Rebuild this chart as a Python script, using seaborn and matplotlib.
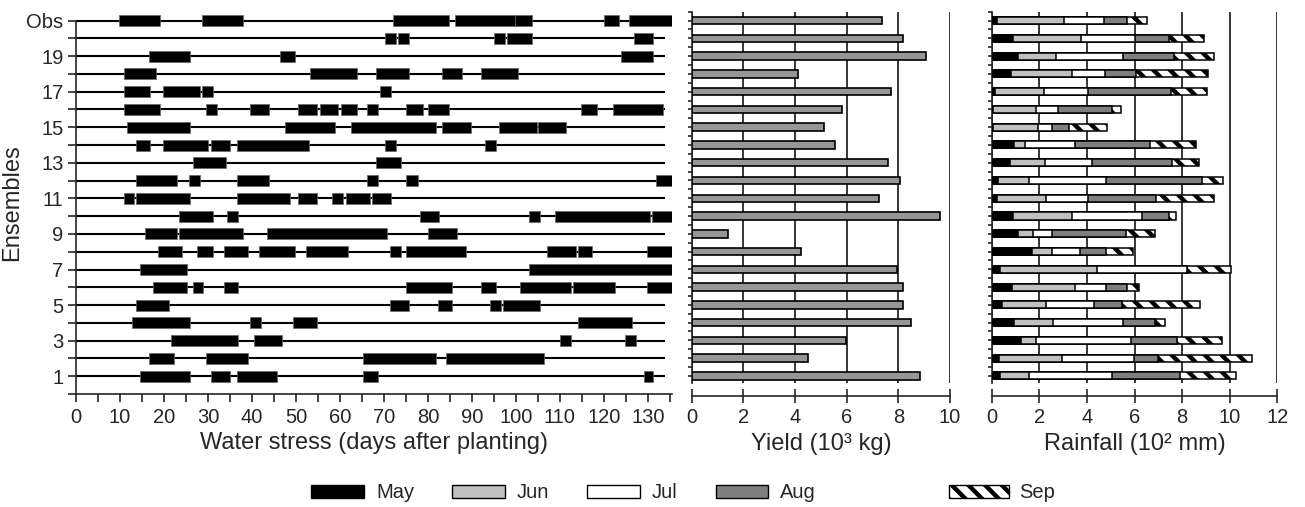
import numpy as np
import pandas as pd
import matplotlib
matplotlib.use("Agg")
import matplotlib.pyplot as plt
from matplotlib.patches import Patch
from matplotlib.ticker import MultipleLocator
import seaborn as sns

# rows: ensembles 1..20, then observed (top row)
row_labels = ["1", "", "3", "", "5", "", "7", "", "9", "", "11", "", "13", "",
              "15", "", "17", "", "19", "", "Obs"]
rows = np.arange(1, 22)

# water stress periods (start day, end day) per row
stress_e1 = [(14.5, 26.0), (30.6, 35.0), (36.6, 45.8), (65.3, 68.7), (129.2, 131.2)]
stress_e2 = [(16.7, 22.2), (29.5, 39.0), (65.3, 81.8), (84.1, 106.4)]
stress_e3 = [(21.6, 36.9), (40.4, 46.9), (110.0, 112.5), (124.9, 127.4)]
stress_e4 = [(12.7, 26.0), (39.5, 42.0), (49.3, 54.8), (114.1, 126.4)]
stress_e5 = [(13.7, 21.1), (71.4, 75.8), (82.3, 85.5), (94.1, 96.6), (97.1, 105.4)]
stress_e6 = [(17.5, 25.2), (26.5, 28.9), (33.6, 36.9), (75.1, 85.5), (92.0, 95.5),
             (101.0, 112.5), (113.0, 122.5), (129.8, 135.4)]
stress_e7 = [(14.5, 25.2), (102.9, 135.4)]
stress_e8 = [(18.6, 24.0), (27.6, 31.1), (33.6, 39.0), (41.5, 49.8), (52.3, 61.9),
             (71.4, 73.9), (75.1, 88.6), (107.0, 113.6), (114.1, 117.3), (129.8, 135.4)]
stress_e9 = [(15.8, 23.0), (23.5, 38.0), (43.4, 70.8), (80.1, 86.6)]
stress_e10 = [(23.5, 31.1), (34.4, 36.9), (78.2, 82.6), (102.9, 105.4), (108.9, 130.5),
              (130.9, 135.4)]
stress_e11 = [(10.8, 13.2), (13.7, 26.0), (36.6, 48.7), (50.5, 54.8), (58.3, 60.8),
              (61.4, 66.8), (67.2, 71.7)]
stress_e12 = [(13.7, 23.0), (25.7, 28.2), (36.6, 43.9), (66.2, 68.7), (75.1, 77.7),
              (131.8, 135.4)]
stress_e13 = [(26.5, 34.2), (68.3, 73.9)]
stress_e14 = [(13.7, 16.9), (19.7, 30.0), (30.6, 35.0), (36.6, 53.0), (70.2, 72.7),
              (93.0, 95.5)]
stress_e15 = [(11.5, 26.0), (47.5, 58.9), (62.5, 81.8), (83.1, 89.7), (96.1, 104.7),
              (105.1, 111.4)]
stress_e16 = [(10.8, 19.1), (29.5, 32.0), (39.5, 43.9), (50.5, 54.8), (55.4, 59.6),
              (60.2, 63.8), (66.2, 68.7), (75.1, 78.8), (80.1, 84.8), (114.9, 118.5),
              (122.0, 133.5)]
stress_e17 = [(10.8, 16.9), (19.7, 28.2), (28.7, 31.1), (69.2, 71.7)]
stress_e18 = [(10.8, 18.1), (53.3, 63.8), (68.3, 75.8), (83.1, 87.8), (92.0, 100.5)]
stress_e19 = [(16.7, 26.0), (46.3, 49.8), (123.8, 131.2)]
stress_e20 = [(70.2, 72.7), (73.3, 75.8), (95.0, 97.6), (98.0, 103.6), (126.8, 131.2)]
stress_obs = [(9.7, 19.1), (28.7, 38.0), (72.1, 84.8), (86.1, 99.8), (99.8, 103.6),
              (120.0, 123.4), (125.8, 135.4)]
season_end = 134

# yield (10^3 kg), rows 1..20 then Obs
yields = [8.84, 4.52, 5.96, 8.49, 8.19, 8.19, 7.96, 4.23, 1.39, 9.60, 7.26, 8.06,
          7.61, 5.53, 5.12, 5.81, 7.73, 4.13, 9.06, 8.19, 7.38]

# monthly rainfall (10^2 mm), rows 1..20 then Obs
rain_may = [0.35, 0.32, 1.23, 0.95, 0.45, 0.87, 0.35, 1.71, 1.12, 0.91, 0.24, 0.25,
            0.77, 0.95, 0.05, 0.05, 0.14, 0.81, 1.12, 0.91, 0.21]
rain_jun = [1.20, 2.63, 0.62, 1.61, 1.85, 2.63, 4.06, 0.84, 0.63, 2.45, 2.04, 1.30,
            1.48, 0.46, 1.90, 1.80, 2.04, 2.55, 1.57, 2.84, 2.84]
rain_jul = [3.52, 3.03, 4.02, 2.96, 2.01, 1.32, 3.80, 1.15, 0.80, 2.94, 1.77, 3.27,
            1.96, 2.09, 0.60, 0.94, 1.85, 1.39, 2.83, 2.27, 1.65]
rain_aug = [2.85, 0.99, 1.90, 1.35, 1.15, 0.85, 0.00, 1.10, 3.11, 1.16, 2.84, 4.03,
            3.37, 3.16, 0.71, 2.25, 3.49, 1.30, 2.14, 1.44, 1.00]
rain_sep = [2.33, 3.97, 1.92, 0.42, 3.28, 0.51, 1.83, 1.14, 1.21, 0.27, 2.45, 0.88,
            1.14, 1.91, 1.58, 0.38, 1.51, 3.03, 1.67, 1.47, 0.81]

months = ["May", "Jun", "Jul", "Aug", "Sep"]
month_colors = ["black", "#c0c0c0", "white", "#7f7f7f", "white"]
month_hatch = [None, None, None, None, "\\\\"]

sns.set_theme(style="white")
plt.rcParams["font.family"] = ["Liberation Sans", "DejaVu Sans"]
plt.rcParams["hatch.linewidth"] = 3.2
plt.rcParams["axes.linewidth"] = 1.2

W, H = 1305, 507
fig = plt.figure(figsize=(W / 100, H / 100), dpi=100)

# ---- panel 1: water stress timeline
ax1 = fig.add_axes([76 / W, (H - 394) / H, 596 / W, 382.3 / H])
stress_rows = [stress_e1, stress_e2, stress_e3, stress_e4, stress_e5, stress_e6,
               stress_e7, stress_e8, stress_e9, stress_e10, stress_e11, stress_e12,
               stress_e13, stress_e14, stress_e15, stress_e16, stress_e17,
               stress_e18, stress_e19, stress_e20, stress_obs]
ax1.hlines(rows, 0, season_end, color="black", lw=1.5, zorder=1)
bh = 0.62
for r, segs in zip(rows, stress_rows):
    ax1.broken_barh([(s, e - s) for s, e in segs], (r - bh / 2, bh),
                    facecolor="black", edgecolor="#666666", lw=0.5, zorder=2)
ax1.set_xlim(0, 135.5)
ax1.set_ylim(0, 21.5)
ax1.set_yticks(np.arange(0, 22))
ax1.set_yticklabels([""] + row_labels)
ax1.xaxis.set_major_locator(MultipleLocator(10))
ax1.xaxis.set_minor_locator(MultipleLocator(5))
ax1.tick_params(axis="x", which="both", direction="out", length=6, width=1.2,
                bottom=True, labelsize=14.5, pad=4)
ax1.tick_params(axis="y", direction="out", length=6, width=1.2, left=True,
                labelsize=14.5, pad=3)
for s in ["top", "right"]:
    ax1.spines[s].set_visible(False)
ax1.spines["left"].set_bounds(0, 21)
ax1.spines["bottom"].set_bounds(0, 135.5)
ax1.set_xlabel("Water stress (days after planting)", fontsize=17, labelpad=4)
ax1.set_ylabel("Ensembles", fontsize=17, labelpad=2)

# ---- panel 2: yield
ax2 = fig.add_axes([691.7 / W, (H - 383) / H, 258.3 / W, 371.3 / H])
df_y = pd.DataFrame({"row": rows, "yield": yields})
sns.barplot(data=df_y, x="yield", y="row", orient="y", native_scale=True,
            width=0.42, color="#969696", saturation=1, edgecolor="black",
            linewidth=1.2, errorbar=None, ax=ax2, zorder=3)
ax2.set_xlim(0, 10)
ax2.set_xticks(np.arange(0, 11, 2))
ax2.set_xlabel("Yield (10³ kg)", fontsize=17, labelpad=4)

# ---- panel 3: rainfall, stacked by drawing cumulative totals back to front
ax3 = fig.add_axes([991.7 / W, (H - 383) / H, 285.6 / W, 371.3 / H])
df_r = pd.DataFrame({"row": rows, "May": rain_may, "Jun": rain_jun,
                     "Jul": rain_jul, "Aug": rain_aug, "Sep": rain_sep})
cum = df_r[months].cumsum(axis=1)
for i in range(len(months) - 1, -1, -1):
    m = months[i]
    d = pd.DataFrame({"row": rows, "val": cum[m]})
    sns.barplot(data=d, x="val", y="row", orient="y", native_scale=True,
                width=0.4, color=month_colors[i], saturation=1,
                edgecolor="black", linewidth=1.1, hatch=month_hatch[i],
                errorbar=None, ax=ax3, zorder=3 + (5 - i))
ax3.set_xlim(0, 12)
ax3.set_xticks(np.arange(0, 13, 2))
ax3.set_xlabel("Rainfall (10² mm)", fontsize=17, labelpad=4)

for ax in (ax2, ax3):
    ax.set_ylim(0.6, 21.5)
    ax.set_yticks(np.arange(1, 21.6, 0.5))
    ax.set_yticklabels([])
    ax.set_ylabel("")
    ax.grid(axis="x", color="black", lw=1.1)
    ax.grid(axis="y", visible=False)
    ax.set_axisbelow(True)
    ax.tick_params(axis="x", direction="inout", length=10, width=1.2,
                   bottom=True, labelsize=14.5, pad=4)
    ax.tick_params(axis="y", direction="out", length=3, width=1.2, left=True)
    for s in ["top", "right"]:
        ax.spines[s].set_visible(False)
    ax.spines["bottom"].set_position(("outward", 9))

# ---- legend
handles = [Patch(facecolor=c, edgecolor="black", hatch=h, lw=1, label=m)
           for m, c, h in zip(months, month_colors, month_hatch)]
fig.legend(handles=handles[:4], loc="center", ncol=4, frameon=False,
           bbox_to_anchor=(0.432, 0.028), fontsize=14.5, handlelength=2.6,
           handleheight=0.6, handletextpad=0.6, columnspacing=1.9)
fig.legend(handles=handles[4:], loc="center", frameon=False,
           bbox_to_anchor=(0.768, 0.028), fontsize=14.5, handlelength=3.0,
           handleheight=0.6, handletextpad=0.5)

fig.savefig("out.png", dpi=100)
